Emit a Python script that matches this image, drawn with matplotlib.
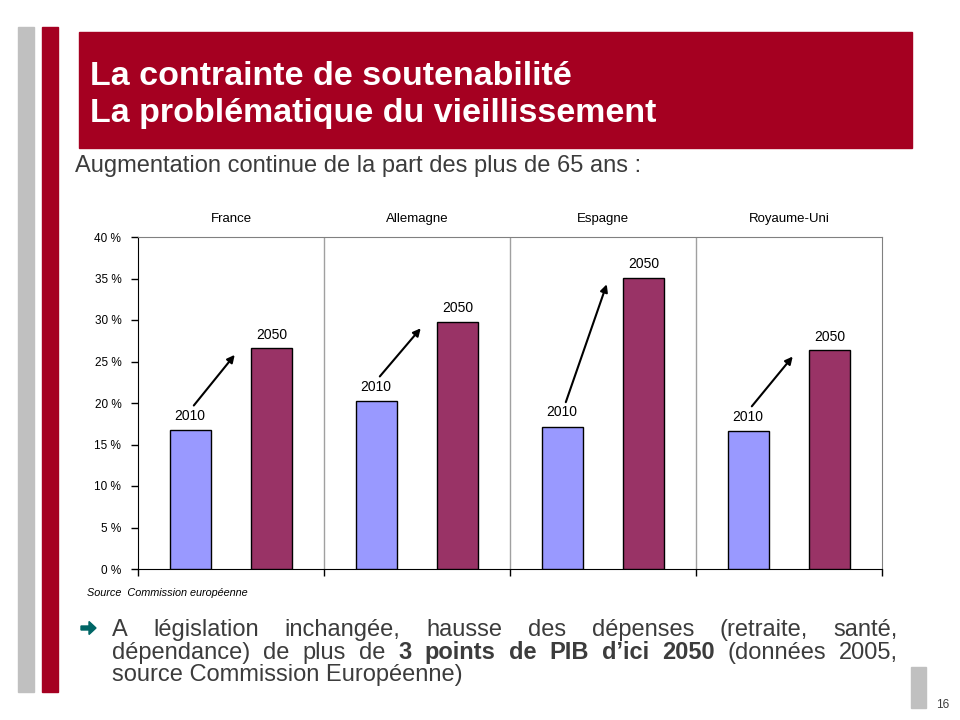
import matplotlib
import matplotlib.pyplot as plt
from matplotlib.patches import Rectangle, FancyArrow
from matplotlib.transforms import IdentityTransform

matplotlib.use("Agg")
plt.rcParams["font.family"] = ["Liberation Sans", "DejaVu Sans"]

# data (share of population aged 65+, in %)
COUNTRIES = ["France", "Allemagne", "Espagne", "Royaume-Uni"]
SHARE_2010 = [16.7, 20.2, 17.1, 16.6]
SHARE_2050 = [26.6, 29.8, 35.1, 26.4]
YEARS = ["2010", "2050"]
YTICKS = [0, 5, 10, 15, 20, 25, 30, 35, 40]

TITLE_1 = "La contrainte de soutenabilité"
TITLE_2 = "La problématique du vieillissement"
SUBTITLE = "Augmentation continue de la part des plus de 65 ans :"
SOURCE = "Source  Commission européenne"
BODY_1 = [("A", False), ("législation", False), ("inchangée,", False), ("hausse", False),
          ("des", False), ("dépenses", False), ("(retraite,", False), ("santé,", False)]
BODY_2 = [("dépendance)", False), ("de", False), ("plus", False), ("de", False),
          ("3", True), ("points", True), ("de", True), ("PIB", True), ("d’ici", True),
          ("2050", True), ("(données", False), ("2005,", False)]
BODY_3 = "source Commission Européenne)"

RED = "#A50021"
GREY = "#C0C0C0"
BLUE_BAR = "#9999FF"
PLUM_BAR = "#993366"
TEXT = "#3C3C3C"

W, H = 960, 720


def px(x, y):
    return x / W, 1 - y / H


fig = plt.figure(figsize=(9.6, 7.2), dpi=100)

# slide decoration
for x0, w, col in [(18, 16, GREY), (42, 16, RED)]:
    fig.patches.append(Rectangle(px(x0, 692), w / W, 665 / H, transform=fig.transFigure,
                                 color=col, zorder=0))
fig.patches.append(Rectangle(px(79, 148), 833 / W, 116 / H, transform=fig.transFigure,
                             color=RED, zorder=0))
fig.patches.append(Rectangle(px(911, 708), 15 / W, 41 / H, transform=fig.transFigure,
                             color=GREY, zorder=0))

fig.text(*px(90, 85), TITLE_1, color="white", fontsize=24.5, fontweight="bold", va="baseline")
fig.text(*px(90, 122), TITLE_2, color="white", fontsize=24.5, fontweight="bold", va="baseline")
fig.text(*px(75, 172), SUBTITLE, color=TEXT, fontsize=17, va="baseline")
fig.text(*px(936, 708), "16", color=TEXT, fontsize=8.5, va="baseline")

# chart
ax = fig.add_axes([138 / W, 1 - 569 / H, 744 / W, 332 / H])
x = list(range(len(COUNTRIES)))
bw = 0.22
ax.bar([i - 0.22 for i in x], SHARE_2010, width=bw, color=BLUE_BAR, edgecolor="black",
       linewidth=1, zorder=3)
ax.bar([i + 0.22 for i in x], SHARE_2050, width=bw, color=PLUM_BAR, edgecolor="black",
       linewidth=1, zorder=3)

for i, (a, b) in enumerate(zip(SHARE_2010, SHARE_2050)):
    ax.annotate(YEARS[0], (i - 0.22, a), xytext=(0, 5.5), textcoords="offset points",
                ha="center", va="bottom", fontsize=10)
    ax.annotate(YEARS[1], (i + 0.22, b), xytext=(0, 4.5), textcoords="offset points",
                ha="center", va="bottom", fontsize=10)
    ax.annotate("", xy=(i + 0.02, b - 0.8), xytext=(i - 0.2, a + 3.0),
                arrowprops=dict(arrowstyle="-|>", color="black", lw=1.5,
                                mutation_scale=11, shrinkA=0, shrinkB=0), zorder=4)
    ax.text(i, 1.055, COUNTRIES[i], transform=ax.get_xaxis_transform(),
            ha="center", va="center", fontsize=9.5)

for b in [0.5, 1.5, 2.5]:
    ax.axvline(b, color="#A0A0A0", linewidth=1, zorder=1)

ax.set_xlim(-0.5, 3.5)
ax.set_ylim(0, 40)
ax.set_yticks(YTICKS)
ax.set_yticklabels([f"{v} %" for v in YTICKS], fontsize=8.5)
ax.set_xticks([-0.5, 0.5, 1.5, 2.5, 3.5])
ax.set_xticklabels([])
ax.tick_params(axis="y", length=5, width=1, pad=7)
ax.tick_params(axis="x", length=5, width=1)
for side in ["top", "right"]:
    ax.spines[side].set_color("#808080")
for side in ["left", "bottom"]:
    ax.spines[side].set_color("black")

fig.text(*px(87, 596), SOURCE, fontsize=7.8, style="italic", va="baseline")

# bullet arrow (pixel coords, origin bottom-left)
fig.patches.append(FancyArrow(81, H - 628, 15, 0, width=4, head_width=13, head_length=7,
                              length_includes_head=True, color="#006666",
                              transform=IdentityTransform()))
renderer = fig.canvas.get_renderer()


def justify(words, y, x0, x1):
    items = []
    for w, bold in words:
        t = fig.text(0, 0, w, fontsize=17, color=TEXT, va="baseline",
                     fontweight="bold" if bold else "normal")
        items.append((t, t.get_window_extent(renderer).width))
    gap = (x1 - x0 - sum(wd for _, wd in items)) / (len(items) - 1)
    cur = x0
    for t, wd in items:
        t.set_position(px(cur, y))
        cur += wd + gap


justify(BODY_1, 636, 112, 898)
justify(BODY_2, 659, 112, 898)
fig.text(*px(112, 681), BODY_3, fontsize=17, color=TEXT, va="baseline")

fig.savefig("out.png", dpi=100)
